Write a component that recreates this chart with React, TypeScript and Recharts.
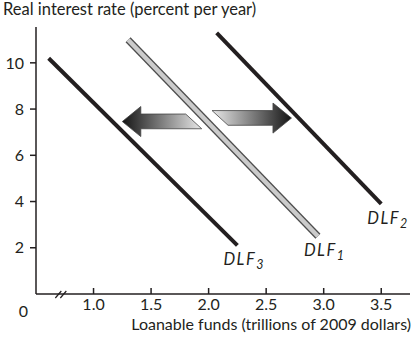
import { Label, Line, LineChart, ReferenceArea, ReferenceDot, XAxis, YAxis } from "recharts";

// demand for loanable funds curves, two points each (start, end)
const dlf1X = [1.3, 2.95];
const dlf1Y = [11.0, 2.5];
const dlf2X = [2.07, 3.5];
const dlf2Y = [11.3, 3.9];
const dlf3X = [0.61, 2.25];
const dlf3Y = [10.2, 2.1];

const xTicks = [1.0, 1.5, 2.0, 2.5, 3.0, 3.5];
const yTicks = [2, 4, 6, 8, 10];

// shift arrows: x range and y range in data units
const leftArrowX = [1.25, 1.94];
const leftArrowY = [6.81, 8.11];
const rightArrowX = [2.03, 2.72];
const rightArrowY = [6.96, 8.26];

const toPoints = (xs: number[], ys: number[]) => xs.map((x, i) => ({ x, y: ys[i] }));

const INK = "#231f20";

function ShiftArrow(props: any) {
  const { x, y, width, height, dir } = props;
  const head = 18.5;
  const slant = 16;
  const top = y + height * 0.25;
  const bot = y + height * 0.74;
  const mid = y + height / 2;
  const pts =
    dir === "left"
      ? [
          [x, mid],
          [x + head, y],
          [x + head, top],
          [x + width - slant, top],
          [x + width, bot],
          [x + head, bot],
          [x + head, y + height],
        ]
      : [
          [x, top],
          [x + width - head, top],
          [x + width - head, y],
          [x + width, mid],
          [x + width - head, y + height],
          [x + width - head, bot],
          [x + slant, bot],
        ];
  const id = `grad-${dir}`;
  return (
    <g>
      <defs>
        <linearGradient id={id} x1="0" x2="1" y1="0" y2="0">
          <stop offset="0%" stopColor={dir === "left" ? "#151515" : "#e8e8e8"} />
          <stop offset="100%" stopColor={dir === "left" ? "#e8e8e8" : "#151515"} />
        </linearGradient>
      </defs>
      <polygon
        points={pts.map((p) => p.join(",")).join(" ")}
        fill={`url(#${id})`}
        stroke="#444"
        strokeWidth={0.8}
      />
    </g>
  );
}

const curveLabel = (sub: string) => (p: any) =>
  p.index === 1 ? (
    <text
      x={p.x - 14}
      y={p.y + 20}
      fontSize={16.5}
      fontStyle="italic"
      letterSpacing={1.5}
      fill={INK}
    >
      DLF
      <tspan fontSize={12.5} dy={4}>
        {sub}
      </tspan>
    </text>
  ) : null;

export default function App() {
  return (
    <div style={{ width: 419, height: 348, fontFamily: "Lato, sans-serif", background: "#fff" }}>
      <style>{`body{margin:0}`}</style>
      <LineChart width={419} height={348} margin={{ top: 27, right: 9, bottom: 0, left: 0 }}>
        <XAxis
          type="number"
          dataKey="x"
          domain={[0.5, 3.75]}
          allowDataOverflow
          ticks={xTicks}
          tickFormatter={(v: number) => v.toFixed(1)}
          height={54}
          tickSize={-6}
          tickMargin={11}
          stroke={INK}
          strokeWidth={1.5}
          tick={{ fill: INK, fontSize: 16 }}
        >
          <Label
            content={(p: any) => (
              <text
                x={p.viewBox.x + p.viewBox.width + 1}
                y={p.viewBox.y + 36}
                textAnchor="end"
                fontSize={16}
                fill={INK}
              >
                Loanable funds (trillions of 2009 dollars)
              </text>
            )}
          />
        </XAxis>
        <YAxis
          type="number"
          dataKey="y"
          domain={[0, 11.55]}
          allowDataOverflow
          ticks={yTicks}
          width={36}
          tickSize={6}
          tickMargin={6}
          stroke={INK}
          strokeWidth={1.5}
          tick={{ fill: INK, fontSize: 16 }}
        >
          <Label
            content={(p: any) => (
              <text x={3} y={p.viewBox.y - 12} fontSize={16.5} fill={INK}>
                Real interest rate (percent per year)
              </text>
            )}
          />
        </YAxis>

        <ReferenceArea
          x1={leftArrowX[0]}
          x2={leftArrowX[1]}
          y1={leftArrowY[0]}
          y2={leftArrowY[1]}
          shape={(p: any) => <ShiftArrow {...p} dir="left" />}
        />
        <ReferenceArea
          x1={rightArrowX[0]}
          x2={rightArrowX[1]}
          y1={rightArrowY[0]}
          y2={rightArrowY[1]}
          shape={(p: any) => <ShiftArrow {...p} dir="right" />}
        />

        <Line
          data={toPoints(dlf3X, dlf3Y)}
          dataKey="y"
          type="linear"
          stroke={INK}
          strokeWidth={4}
          dot={false}
          activeDot={false}
          isAnimationActive={false}
          label={curveLabel("3")}
        />
        <Line
          data={toPoints(dlf1X, dlf1Y)}
          dataKey="y"
          type="linear"
          stroke="#4d4d4d"
          strokeWidth={7}
          dot={false}
          activeDot={false}
          isAnimationActive={false}
          label={curveLabel("1")}
        />
        <Line
          data={toPoints(dlf1X, dlf1Y)}
          dataKey="y"
          type="linear"
          stroke="#cbcbcb"
          strokeWidth={4.5}
          dot={false}
          activeDot={false}
          isAnimationActive={false}
        />
        <Line
          data={toPoints(dlf2X, dlf2Y)}
          dataKey="y"
          type="linear"
          stroke={INK}
          strokeWidth={4}
          dot={false}
          activeDot={false}
          isAnimationActive={false}
          label={curveLabel("2")}
        />

        {/* axis break marks */}
        <ReferenceDot
          x={0.72}
          y={0}
          r={0}
          shape={(p: any) => (
            <g stroke={INK} strokeWidth={1.2}>
              <line x1={p.cx - 6} y1={p.cy + 4} x2={p.cx} y2={p.cy - 3} />
              <line x1={p.cx - 1} y1={p.cy + 4} x2={p.cx + 5} y2={p.cy - 3} />
            </g>
          )}
        />
        <ReferenceDot
          x={0.5}
          y={0}
          r={0}
          shape={(p: any) => (
            <text x={p.cx - 12.5} y={p.cy + 23} textAnchor="middle" fontSize={16} fill={INK}>
              0
            </text>
          )}
        />
      </LineChart>
    </div>
  );
}
